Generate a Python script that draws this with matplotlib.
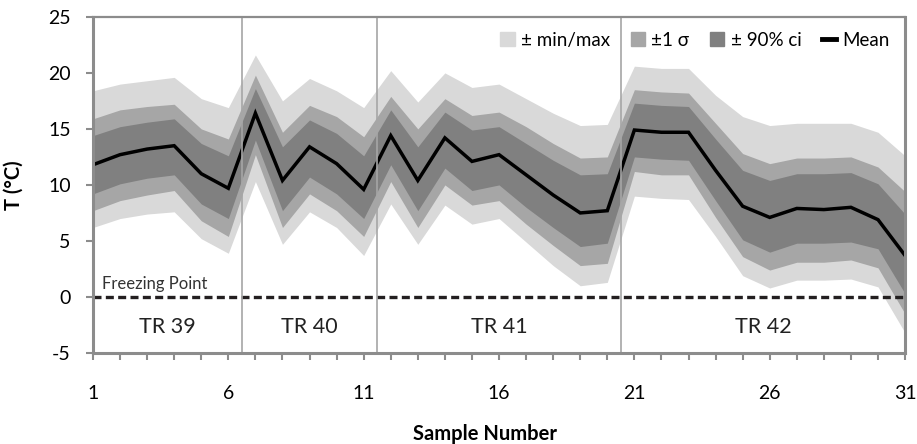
import matplotlib
matplotlib.use("Agg")
import matplotlib.pyplot as plt
from matplotlib.patches import Patch
from matplotlib.lines import Line2D
import numpy as np

plt.rcParams['font.family'] = ['Lato', 'DejaVu Sans']
plt.rcParams['axes.unicode_minus'] = False

# sample numbers and temperature statistics (deg C)
samples = np.arange(1, 32)
t_mean = [11.8, 12.7, 13.2, 13.5, 11.0, 9.7, 16.4, 10.4, 13.4, 11.9, 9.6, 14.4, 10.4, 14.2, 12.1, 12.7,
          10.9, 9.1, 7.5, 7.7, 14.9, 14.7, 14.7, 11.3, 8.1, 7.1, 7.9, 7.8, 8.0, 6.9, 3.7]
t_max = [18.4, 19.0, 19.3, 19.6, 17.7, 16.9, 21.6, 17.5, 19.5, 18.4, 16.9, 20.2, 17.4, 20.0, 18.7, 19.0,
         17.7, 16.4, 15.3, 15.4, 20.6, 20.4, 20.4, 18.0, 16.1, 15.3, 15.5, 15.5, 15.5, 14.7, 12.6]
t_min = [6.2, 7.0, 7.4, 7.6, 5.2, 3.9, 10.3, 4.7, 7.6, 6.2, 3.7, 8.3, 4.7, 8.2, 6.5, 7.0,
         4.9, 2.8, 1.0, 1.3, 9.0, 8.8, 8.7, 5.4, 1.9, 0.8, 1.5, 1.5, 1.6, 0.9, -3.2]
sd_hi = [15.9, 16.7, 17.0, 17.2, 15.0, 14.1, 19.8, 14.7, 17.1, 16.1, 14.3, 17.9, 15.0, 17.7, 16.2, 16.5,
         15.2, 13.7, 12.4, 12.5, 18.5, 18.3, 18.2, 15.5, 12.8, 11.9, 12.4, 12.4, 12.5, 11.6, 9.4]
sd_lo = [7.7, 8.6, 9.1, 9.5, 6.8, 5.4, 12.7, 6.2, 9.2, 7.7, 5.4, 10.3, 6.2, 10.0, 8.2, 8.6,
         6.5, 4.6, 2.8, 3.0, 11.2, 10.9, 10.9, 7.1, 3.6, 2.4, 3.1, 3.1, 3.3, 2.6, -1.5]
ci_hi = [14.4, 15.2, 15.6, 15.9, 13.7, 12.6, 18.6, 13.4, 15.8, 14.6, 12.6, 16.7, 13.4, 16.5, 14.9, 15.2,
         13.7, 12.2, 10.9, 11.0, 17.3, 17.1, 17.0, 14.1, 11.3, 10.4, 11.0, 11.0, 11.1, 10.1, 7.4]
ci_lo = [9.2, 10.1, 10.6, 10.9, 8.3, 7.0, 14.0, 7.7, 10.7, 9.2, 7.0, 11.8, 7.7, 11.5, 9.5, 10.0,
         8.0, 6.2, 4.5, 4.8, 12.5, 12.3, 12.2, 8.6, 5.1, 4.0, 4.8, 4.8, 4.9, 4.3, 0.3]

# transect boundaries and labels
tr_edges = [1, 6.5, 11.5, 20.5, 31]
tr_names = ['TR 39', 'TR 40', 'TR 41', 'TR 42']

c_minmax = '#d9d9d9'
c_sd = '#a6a6a6'
c_ci = '#808080'
c_axis = '#8c8c8c'

fig = plt.figure(figsize=(9.17, 4.44), dpi=100)
ax = fig.add_axes([0.1014, 0.205, 0.8856, 0.757])

ax.fill_between(samples, t_min, t_max, color=c_minmax, lw=0)
ax.fill_between(samples, sd_lo, sd_hi, color=c_sd, lw=0)
ax.fill_between(samples, ci_lo, ci_hi, color=c_ci, lw=0)
ax.plot(samples, t_mean, color='black', lw=2.5, solid_joinstyle='miter')

# freezing line
ax.axhline(0, color='#231f20', lw=2.4, dashes=(2.4, 1.3))
ax.text(1.35, 0.45, 'Freezing Point', fontsize=12, color='#333333', ha='left', va='bottom')

# transect separators and labels
for e in tr_edges[1:-1]:
    ax.axvline(e, color='#a6a6a6', lw=1.2)
for i, name in enumerate(tr_names):
    ax.text((tr_edges[i] + tr_edges[i + 1]) / 2, -2.7, name, fontsize=15.5, ha='center', va='center',
            color='#222222')

ax.set_xlim(1, 31)
ax.set_ylim(-5, 25)
ax.set_yticks(np.arange(-5, 26, 5))
ax.set_xticks(np.arange(1, 32, 5))
ax.set_xticks(samples, minor=True)

for s in ['left', 'bottom', 'right']:
    ax.spines[s].set_color(c_axis)
    ax.spines[s].set_linewidth(2.2)
ax.spines['top'].set_color(c_axis)
ax.spines['top'].set_linewidth(1.6)

ax.tick_params(axis='both', which='both', color=c_axis, width=1.5, length=5, labelsize=14)
ax.tick_params(axis='y', pad=11)
ax.tick_params(axis='x', which='both', pad=18)

ax.set_xlabel('Sample Number', fontsize=14.5, fontweight='bold')
ax.set_ylabel('T (°C)', fontsize=14.5, fontweight='bold')
ax.xaxis.set_label_coords(0.483, -0.21)
ax.yaxis.set_label_coords(-0.085, 0.5)

handles = [Patch(color=c_minmax), Patch(color=c_sd), Patch(color=c_ci),
           Line2D([0], [0], color='black', lw=3.5)]
labels = ['± min/max', '±1 σ', '± 90% ci', 'Mean']
ax.legend(handles, labels, loc='upper right', ncol=4, frameon=False, fontsize=13.5,
          handlelength=0.75, handleheight=0.75, handletextpad=0.35, columnspacing=1.1,
          borderaxespad=0.4)

fig.savefig('out.png', dpi=100)
